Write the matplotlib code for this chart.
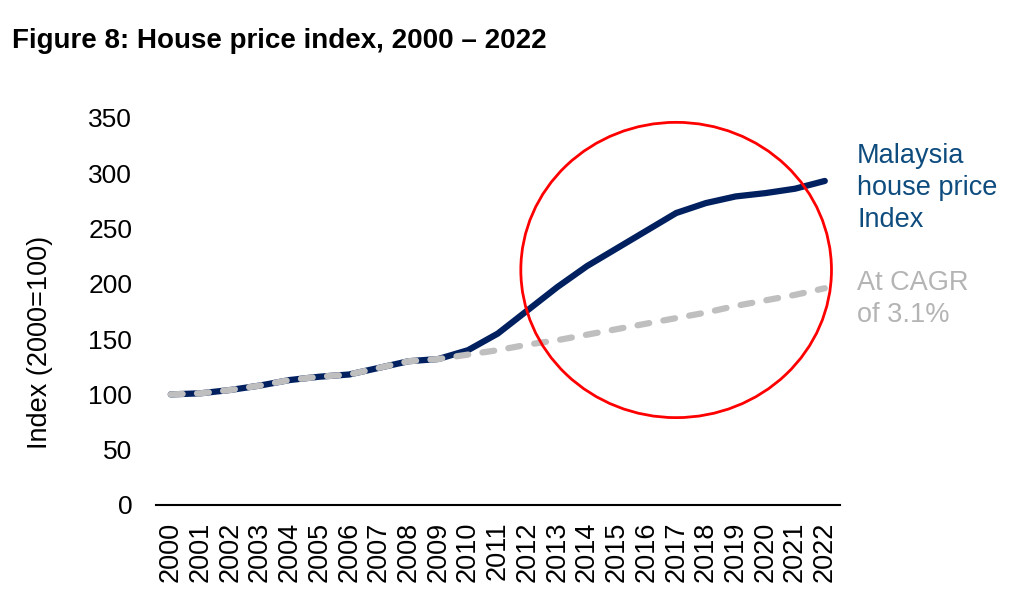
import numpy as np
import matplotlib.pyplot as plt
from matplotlib.patches import Ellipse

plt.rcParams['font.family'] = ['Liberation Sans', 'DejaVu Sans']

# --- data ---
years = [str(y) for y in range(2000, 2023)]
hpi = [100, 101, 104, 108, 113, 116, 118, 124, 130, 132, 140, 155, 176,
       197, 216, 232, 248, 264, 273, 279, 282, 286, 293]
cagr = [100, 101, 104, 108, 113, 116, 118, 124, 130, 132, 136, 140, 145,
        149, 154, 159, 164, 169, 174, 180, 185, 190, 196]
hpi_label = ['Malaysia', 'house price', 'Index']
cagr_label = ['At CAGR', 'of 3.1%']

fig = plt.figure(figsize=(10.19, 6.11), dpi=100)
ax = fig.add_axes([0.153, 0.1735, 0.671, 0.6335])

x = np.arange(len(years))
ax.plot(x, hpi, color='#002060', lw=4.5, solid_capstyle='round', zorder=3)
ax.plot(x, cagr, color='#BFBFBF', lw=4.5, ls=(0, (1.9, 2.3)),
        dash_capstyle='round', zorder=4)

ax.set_xlim(-0.5, 22.5)
ax.set_ylim(0, 350)
ax.set_yticks(range(0, 351, 50))
ax.set_xticks(x)
ax.set_xticklabels(years, rotation=90, fontsize=19.5)
ax.tick_params(axis='y', labelsize=19, length=0, pad=17)
ax.tick_params(axis='x', length=0, pad=12)
for s in ['top', 'right', 'left']:
    ax.spines[s].set_visible(False)
ax.spines['bottom'].set_color('black')
ax.spines['bottom'].set_linewidth(1.5)
ax.set_ylabel('Index (2000=100)', fontsize=19.5)
ax.yaxis.set_label_coords(-0.15, 0.42)

# red highlight circle
circ = Ellipse((17.0, 212.5), 10.45, 267, fill=False, edgecolor='#FF0000',
               lw=2, clip_on=False, zorder=5)
ax.add_patch(circ)

# series labels on the right, one line at a time (baselines in pixels)
for i, t in enumerate(hpi_label):
    fig.text(857 / 1019, 1 - (163 + 32 * i) / 611, t, fontsize=19.5,
             color='#0E4C7E', va='baseline')
for i, t in enumerate(cagr_label):
    fig.text(857 / 1019, 1 - (290 + 32 * i) / 611, t, fontsize=19.5,
             color='#B4B4B4', va='baseline')

fig.text(0.012, 0.933, 'Figure 8: House price index, 2000 \u2013 2022',
         fontsize=20, fontweight='bold', va='center')

fig.savefig('out.png', dpi=100)
